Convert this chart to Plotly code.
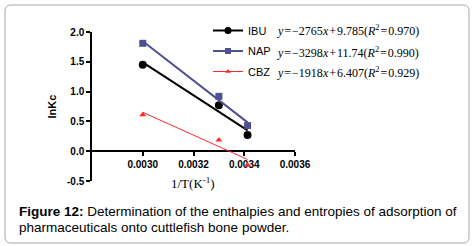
import plotly.graph_objects as go

# ---- data ----
inv_T = [0.0030, 0.0033, 0.003413]
series_names = ["IBU", "NAP", "CBZ"]
ibu_lnkc = [1.45, 0.77, 0.27]
nap_lnkc = [1.81, 0.92, 0.43]
cbz_lnkc = [0.61, 0.19, -0.23]
slopes = [-2765, -3298, -1918]
intercepts = [9.785, 11.74, 6.407]
r2_values = ["0.970", "0.990", "0.929"]
x_ticks = [0.0030, 0.0032, 0.0034, 0.0036]
x_tick_labels = ["0.0030", "0.0032", "0.0034", "0.0036"]
y_ticks = [-0.5, 0.0, 0.5, 1.0, 1.5, 2.0]
y_tick_labels = ["-0.5", "0.0", "0.5", "1.0", "1.5", "2.0"]

colors = ["#000000", "#4f4f93", "#ff2a2a"]
symbols = ["circle", "square", "triangle-up"]
msizes = [8, 7, 6]
lwidths = [2, 2, 1]
values = [ibu_lnkc, nap_lnkc, cbz_lnkc]

W, H = 473, 246
ML, MR, MT, MB = 92, 178, 32, 65
PW, PH = W - ML - MR, H - MT - MB


def px(xp):
    return (xp - ML) / PW


def py(yp):
    return (H - MB - yp) / PH


fig = go.Figure()
xfit = [min(inv_T), max(inv_T)]
for i, name in enumerate(series_names):
    yfit = [slopes[i] * x + intercepts[i] for x in xfit]
    fig.add_trace(go.Scatter(x=xfit, y=yfit, mode="lines",
                             line=dict(color=colors[i], width=lwidths[i]),
                             showlegend=False, hoverinfo="skip"))
    fig.add_trace(go.Scatter(x=inv_T, y=values[i], mode="markers",
                             marker=dict(color=colors[i], symbol=symbols[i], size=msizes[i]),
                             showlegend=False))
    fig.add_trace(go.Scatter(x=[None], y=[None], mode="lines+markers", name=name,
                             legendgroup=name,
                             line=dict(color=colors[i], width=lwidths[i]),
                             marker=dict(color=colors[i], symbol=symbols[i], size=msizes[i] - 1)))

annotations = []
rows_y = [31, 52, 72]
hs = "\u200a"
for i in range(3):
    b = intercepts[i]
    txt = ("<i>y</i>{s}={s}\u2212%d<i>x</i>{s}+{s}%s(<i>R</i><sup>2</sup>{s}={s}%s)".replace("{s}", hs)
           % (-slopes[i], ("%.3f" % b) if b < 10 else ("%.2f" % b), r2_values[i]))
    annotations.append(dict(x=px(275), y=py(rows_y[i]), xref="paper", yref="paper",
                            xanchor="left", yanchor="middle", showarrow=False, text=txt,
                            font=dict(family="Liberation Serif", size=12, color="#000")))

annotations.append(dict(x=px(193), y=py(183), xref="paper", yref="paper",
                        xanchor="center", yanchor="middle", showarrow=False,
                        text="1/T(K<sup>-1</sup>)",
                        font=dict(family="Liberation Serif", size=13, color="#000")))

annotations.append(dict(x=px(17), y=py(211), xref="paper", yref="paper",
                        xanchor="left", yanchor="middle", showarrow=False,
                        text="<b>Figure 12:</b> Determination of the enthalpies and entropies of adsorption of",
                        font=dict(family="Arial, Liberation Sans", size=13.5, color="#000")))
annotations.append(dict(x=px(17), y=py(227), xref="paper", yref="paper",
                        xanchor="left", yanchor="middle", showarrow=False,
                        text="pharmaceuticals onto cuttlefish bone powder.",
                        font=dict(family="Arial, Liberation Sans", size=13.5, color="#000")))

# rounded border
x0, y0, x1, y1, r = 5, 5, 469, 243, 6
path = ("M %f,%f L %f,%f Q %f,%f %f,%f L %f,%f Q %f,%f %f,%f L %f,%f Q %f,%f %f,%f L %f,%f Q %f,%f %f,%f Z" % (
    px(x0 + r), py(y0), px(x1 - r), py(y0), px(x1), py(y0), px(x1), py(y0 + r),
    px(x1), py(y1 - r), px(x1), py(y1), px(x1 - r), py(y1),
    px(x0 + r), py(y1), px(x0), py(y1), px(x0), py(y1 - r),
    px(x0), py(y0 + r), px(x0), py(y0), px(x0 + r), py(y0)))

fig.update_layout(
    width=W, height=H,
    margin=dict(l=ML, r=MR, t=MT, b=MB, autoexpand=False),
    paper_bgcolor="white", plot_bgcolor="white",
    font=dict(family="Arial, Liberation Sans", color="#000"),
    shapes=[dict(type="path", path=path, xref="paper", yref="paper",
                 line=dict(color="#a8a8a8", width=1), layer="below")],
    annotations=annotations,
    legend=dict(x=px(208), y=py(16), xanchor="left", yanchor="top",
                font=dict(family="Arial, Liberation Sans", size=11, color="#000"),
                bgcolor="rgba(0,0,0,0)", tracegroupgap=1.5, traceorder="grouped",
                itemwidth=30),
    xaxis=dict(range=[0.0028, 0.0036], tickvals=x_ticks, ticktext=x_tick_labels,
               ticks="outside", ticklen=4, tickwidth=1.5, tickcolor="#000",
               showline=True, linecolor="#000", linewidth=1.5, layer="below traces",
               anchor="free", position=0.2, showgrid=False, zeroline=False,
               tickfont=dict(family="Arial, Liberation Sans", size=10, color="#000", weight="bold")),
    yaxis=dict(range=[-0.5, 2.0], tickvals=y_ticks, ticktext=y_tick_labels,
               ticks="outside", ticklen=4, tickwidth=1.5, tickcolor="#000",
               showline=True, linecolor="#000", linewidth=1.5, layer="below traces",
               showgrid=False, zeroline=False,
               title=dict(text="<b>lnKc</b>", standoff=8,
                          font=dict(family="Arial, Liberation Sans", size=11, color="#000")),
               tickfont=dict(family="Arial, Liberation Sans", size=10, color="#000", weight="bold")),
)

fig.write_html("out.html", config={"displayModeBar": False},
               post_script="document.body.style.margin='0px';document.body.style.overflow='hidden';")
